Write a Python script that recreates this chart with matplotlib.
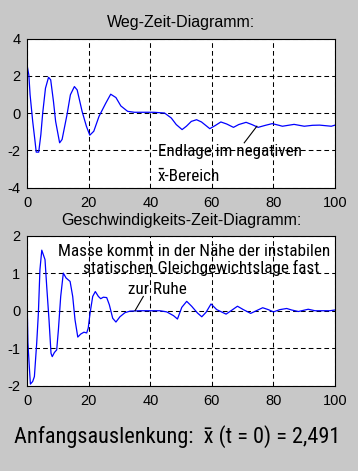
import matplotlib
matplotlib.use("Agg")
import matplotlib.pyplot as plt

# Weg-Zeit: t, x
t_weg = [0, 0.5, 0.9, 1.75, 2.5, 2.9, 3.7, 4.4, 5.0, 5.9, 6.9, 7.6, 8.5, 9.2,
         10.5, 11.3, 12.9, 14.0, 15.3, 16.2, 17.8, 19.2, 20.3, 21.6, 23.3,
         25.5, 27.1, 28.8, 30.4, 32.6, 34.8, 41.0, 44.6, 46.8, 48.4, 50.3,
         51.7, 53.3, 55.0, 56.6, 59.3, 61.0, 62.9, 64.8, 67.0, 68.7, 71.1,
         73.0, 75.0, 77.4, 79.6, 81.8, 82.9, 86.7, 90.0, 92.7, 95.0, 98.8, 100]
x_weg = [2.49, 2.04, 0.98, -0.45, -1.51, -2.1, -2.1, -1.16, 0.0, 1.33, 1.92,
         1.78, 0.62, -0.45, -1.6, -1.42, -0.09, 0.98, 1.42, 1.24, 0.09, -0.71,
         -1.19, -0.98, -0.18, 0.53, 1.01, 0.83, 0.38, 0.09, 0.04, 0.04, 0.0,
         -0.27, -0.62, -0.89, -0.71, -0.45, -0.36, -0.48, -0.84, -0.68, -0.48,
         -0.59, -0.77, -0.62, -0.5, -0.62, -0.77, -0.66, -0.57, -0.66, -0.71,
         -0.61, -0.71, -0.66, -0.65, -0.71, -0.65]

# Geschwindigkeit-Zeit: t, v
t_v = [0, 0.2, 0.65, 1.0, 1.75, 2.3, 3.05, 3.6, 4.1, 4.7, 5.2, 5.75, 6.3, 7.05,
       7.7, 8.1, 8.8, 9.55, 10.1, 10.85, 11.7, 12.6, 13.9, 14.75, 15.5, 16.4,
       17.35, 18.4, 19.3, 19.8, 20.4, 21.25, 22.1, 23.1, 23.85, 24.7, 25.8,
       26.65, 27.75, 28.8, 30.1, 31.75, 33.4, 36.6, 43.1, 45.3, 47.5, 48.8,
       50.2, 51.8, 53.4, 55.3, 56.7, 58.1, 59.7, 61.55, 64.6, 66.2, 68.3, 70.2,
       72.6, 76.5, 78.3, 80.0, 82.1, 84.3, 85.9, 88.1, 91.3, 93.5, 98.3, 100]
v = [0, -0.86, -1.49, -1.95, -1.88, -1.75, -0.86, -0.06, 1.09, 1.61, 1.49,
     1.36, 0.65, -0.24, -1.13, -1.22, -1.11, -1.04, -0.51, 0.38, 1.0, 0.87,
     0.78, 0.38, -0.24, -0.7, -0.62, -0.57, -0.59, -0.46, -0.06, 0.38, 0.51,
     0.38, 0.32, 0.36, 0.35, 0.16, -0.2, -0.3, -0.16, -0.05, -0.01, 0, 0,
     -0.03, -0.13, -0.22, 0.09, 0.25, 0.12, -0.06, -0.16, -0.04, 0.18, 0.03,
     -0.09, 0.0, 0.12, 0.03, -0.07, 0.08, 0.03, -0.03, 0.03, 0.06, 0.02,
     -0.02, 0.04, 0.0, 0.0, 0.02]

bg = "#c8c8c8"
plt.rcParams["axes.unicode_minus"] = False
plt.rcParams["font.family"] = ["Liberation Sans", "DejaVu Sans"]
narrow = ["Roboto Condensed", "DejaVu Sans"]
note_size = 12.3

fig = plt.figure(figsize=(3.58, 4.71), dpi=100, facecolor=bg)
ax1 = fig.add_axes([0.0763, 0.6019, 0.8595, 0.3163])
ax2 = fig.add_axes([0.0763, 0.1805, 0.8595, 0.3195])

for ax in (ax1, ax2):
    ax.set_xlim(0, 100)
    ax.set_xticks([0, 20, 40, 60, 80, 100])
    ax.grid(True, color="black", linestyle=(0, (4.5, 3)), linewidth=0.75)
    ax.tick_params(length=0, labelsize=10.5, pad=5)
    ax.tick_params(axis="x", pad=6)
    for s in ax.spines.values():
        s.set_linewidth(0.8)

ax1.plot(t_weg, x_weg, color="blue", linewidth=0.9)
ax1.set_ylim(-4, 4)
ax1.set_yticks([-4, -2, 0, 2, 4])
ax1.set_title("Weg-Zeit-Diagramm:", fontsize=11.5, pad=8.5)
ax1.text(42.4, -2.3, "Endlage im negativen", family=narrow, fontsize=note_size,
         va="baseline")
ax1.text(42.4, -3.65, "x\u0304-Bereich", family=narrow, fontsize=note_size,
         va="baseline")
ax1.plot([70.5, 74.6], [-1.6, -0.71], color="black", linewidth=0.8)

ax2.plot(t_v, v, color="blue", linewidth=0.9)
ax2.set_ylim(-2, 2)
ax2.set_yticks([-2, -1, 0, 1, 2])
ax2.set_title("Geschwindigkeits-Zeit-Diagramm:", fontsize=11.5, pad=7.5)
ax2.text(10.1, 1.45, "Masse kommt in der N\u00e4he der instabilen",
         family=narrow, fontsize=note_size, va="baseline")
ax2.text(18.0, 0.99, "statischen Gleichgewichtslage fast",
         family=narrow, fontsize=note_size, va="baseline")
ax2.text(32.8, 0.45, "zur Ruhe", family=narrow, fontsize=note_size, va="baseline")
ax2.plot([35, 37.7], [0, 0.38], color="black", linewidth=0.8)

fig.text(14 / 358, 1 - 443 / 471, "Anfangsauslenkung:  x\u0304 (t = 0) = 2,491",
         family=narrow, fontsize=16, va="baseline")

fig.savefig("out.png", dpi=100, facecolor=bg)
